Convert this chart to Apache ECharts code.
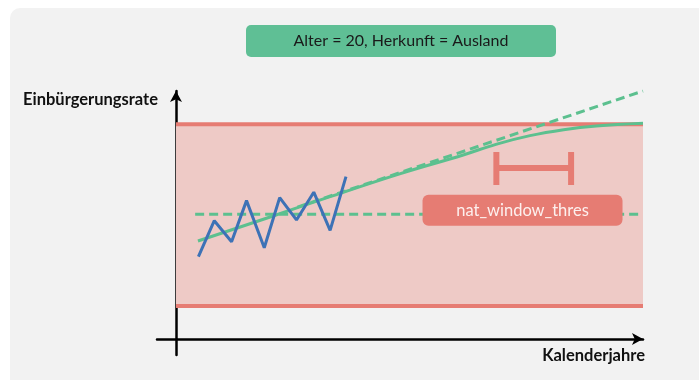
<!DOCTYPE html>
<html><head><meta charset="utf-8">
<script src="https://cdn.jsdelivr.net/npm/echarts@6/dist/echarts.min.js"></script>
<style>html,body{margin:0;padding:0;background:#fff}#c{width:699px;height:380px}</style>
</head><body><div id="c"></div>
<script>
// Schematic chart values (abstract units: x 0..100 calendar years, y 0..100 rate)
const titleText = 'Alter = 20, Herkunft = Ausland';
const yName = 'Einbürgerungsrate';
const xName = 'Kalenderjahre';
const bandLower = 13.3;
const bandUpper = 86.6;
const bandX = [0, 100];
const observedX = [4.8, 8.2, 11.9, 15.1, 18.9, 22.2, 25.8, 29.5, 33.0, 36.4];
const observedY = [33.2, 47.7, 39.2, 55.8, 36.8, 57.0, 48.0, 59.2, 43.8, 65.5];
const meanLevel = 50.3;
const meanX = [4.1, 100];
const trendX = [26, 100];
const trendY = [53.2, 100];
const fitX = [4.7, 20, 33.0, 47.9, 61.5, 68.5, 75.8, 83, 90.0, 100];
const fitY = [39.5, 49.1, 57.4, 66.6, 74.2, 78.5, 82.0, 84.4, 85.9, 87.0];
const windowX = [68.6, 84.6];
const windowY = 69.0;
const windowTop = 75.4, windowBottom = 62.1;
const labelText = 'nat_window_thres';
const labelPos = [74.2, 51.9];

const RED = '#e67c73', GREEN = '#5cc08f', BLUE = '#3d72b6';
const pairs = (xs, ys) => xs.map((x, i) => [x, ys[i]]);

const chart = echarts.init(document.getElementById('c'), null, {renderer: 'canvas'});
const baseGraphic = [
  {id: 'panel', type: 'rect', z: -10, shape: {x: 10, y: 8, width: 720, height: 400, r: 10}, style: {fill: '#f2f2f2'}},
  {id: 'tbox', type: 'rect', z: 10, shape: {x: 246, y: 25, width: 310, height: 32, r: 5}, style: {fill: '#5fbf95'}},
  {id: 'ttext', type: 'text', z: 11, x: 401, y: 41, style: {text: titleText, fill: '#1a1a1a', font: '16px Lato', align: 'center', verticalAlign: 'middle'}}
];
chart.setOption({
  animation: false,
  backgroundColor: '#ffffff',
  textStyle: {fontFamily: 'Lato'},
  graphic: baseGraphic,
  grid: {left: 157, right: 56, top: 91, bottom: 25, containLabel: false},
  xAxis: {
    type: 'value', min: -4.07, max: 100,
    axisLine: {onZero: true, lineStyle: {color: '#000', width: 2.5}, symbol: ['none', 'arrow'], symbolSize: [9, 11]},
    axisTick: {show: false}, axisLabel: {show: false}, splitLine: {show: false},
    name: xName, nameLocation: 'end', nameGap: 2,
    nameTextStyle: {fontSize: 16.5, fontWeight: 'bold', color: '#111', align: 'right', verticalAlign: 'top', padding: [8, 0, 0, 0]}
  },
  yAxis: {
    type: 'value', min: -6.45, max: 100,
    axisLine: {onZero: true, lineStyle: {color: '#000', width: 2.5}, symbol: ['none', 'arrow'], symbolSize: [9, 11]},
    axisTick: {show: false}, axisLabel: {show: false}, splitLine: {show: false},
    name: yName, nameLocation: 'end', nameGap: -17,
    nameTextStyle: {fontSize: 16.5, fontWeight: 'bold', color: '#111', align: 'right', padding: [0, 18, 0, 0]}
  },
  series: [
    {type: 'line', data: pairs(bandX, [bandLower, bandLower]), symbol: 'none', lineStyle: {color: RED, width: 4}, z: 3,
     markArea: {silent: true, itemStyle: {color: '#eecac6'}, data: [[{coord: [bandX[0], bandLower]}, {coord: [bandX[1], bandUpper]}]]}},
    {type: 'line', data: pairs(bandX, [bandUpper, bandUpper]), symbol: 'none', lineStyle: {color: RED, width: 4}, z: 3},
    {type: 'line', data: pairs(meanX, [meanLevel, meanLevel]), symbol: 'none', lineStyle: {color: GREEN, width: 3, type: [9, 5]}, z: 4},
    {type: 'line', data: pairs(trendX, trendY), symbol: 'none', lineStyle: {color: GREEN, width: 3, type: [9, 5]}, z: 4},
    {type: 'line', data: pairs(fitX, fitY), symbol: 'none', smooth: 0.4, lineStyle: {color: GREEN, width: 3}, z: 5},
    {type: 'line', data: pairs(observedX, observedY), symbol: 'none', lineStyle: {color: BLUE, width: 3}, z: 6},
    {type: 'line', data: pairs(windowX, [windowY, windowY]), symbol: 'none', lineStyle: {color: RED, width: 6}, z: 6},
    {type: 'line', data: pairs([windowX[0], windowX[0]], [windowTop, windowBottom]), symbol: 'none', lineStyle: {color: RED, width: 6}, z: 6},
    {type: 'line', data: pairs([windowX[1], windowX[1]], [windowTop, windowBottom]), symbol: 'none', lineStyle: {color: RED, width: 6}, z: 6}
  ]
});
// annotation box placed at the data position through the axes
const p = chart.convertToPixel({gridIndex: 0}, labelPos);
chart.setOption({
  graphic: baseGraphic.concat([
    {id: 'lbox', type: 'rect', z: 100, shape: {x: p[0] - 100, y: p[1] - 15.5, width: 200, height: 31, r: 6}, style: {fill: RED}},
    {id: 'ltext', type: 'text', z: 101, x: p[0], y: p[1], style: {text: labelText, fill: '#fdf0ee', font: '16.5px Lato', align: 'center', verticalAlign: 'middle'}}
  ])
});
</script></body></html>
